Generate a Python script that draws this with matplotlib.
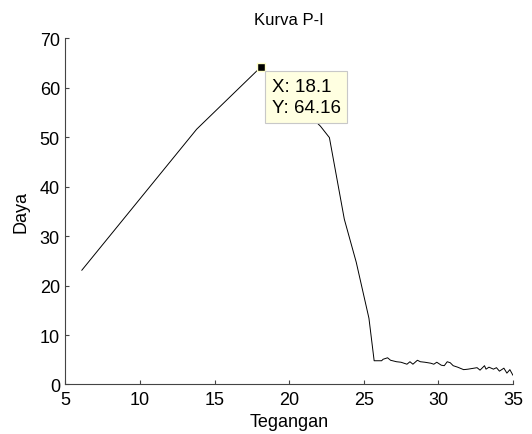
import numpy as np
import matplotlib
matplotlib.use("Agg")
import matplotlib.pyplot as plt

plt.rcParams['font.family'] = ['Liberation Sans', 'DejaVu Sans']

# data
tegangan = [6.1, 13.8, 18.1, 22.1, 22.7, 23.7, 24.5, 25.35, 25.7,
            26.2, 26.3, 26.6, 26.8, 27.2, 27.5, 27.9, 28.1, 28.3, 28.6,
            28.8, 29.1, 29.5, 29.7, 29.9, 30.2, 30.4, 30.6, 30.8, 31.0,
            31.3, 31.7, 32.0, 32.4, 32.6, 32.8, 33.1, 33.2, 33.4, 33.7,
            33.9, 34.1, 34.4, 34.6, 34.8, 35.0]
daya = [23.1, 51.6, 64.16, 52.2, 49.9, 33.4, 24.7, 13.4, 4.8,
        4.8, 5.1, 5.4, 4.9, 4.6, 4.5, 4.1, 4.6, 4.1, 4.9,
        4.6, 4.5, 4.3, 4.1, 4.5, 3.9, 3.8, 4.6, 4.4, 3.8,
        3.5, 3.0, 3.1, 3.3, 3.4, 2.9, 3.8, 3.1, 3.5, 3.1,
        3.4, 2.7, 3.3, 2.3, 3.0, 1.9]
x_ticks = [5, 10, 15, 20, 25, 30, 35]
y_ticks = [0, 10, 20, 30, 40, 50, 60, 70]

fig = plt.figure(figsize=(5.32, 4.35), dpi=100)
ax = fig.add_axes([0.123, 0.1138, 0.841, 0.7962])

ax.plot(tegangan, daya, color='black', linewidth=0.7)

# data cursor at the peak
i = int(np.argmax(daya))
ax.plot(tegangan[i], daya[i], marker='s', markersize=6, color='black',
        markeredgecolor='#FFFFC8', markeredgewidth=1)
ax.annotate(f'X: {tegangan[i]}\nY: {daya[i]}', xy=(tegangan[i], daya[i]),
            xytext=(11, -11), textcoords='offset pixels', ha='left', va='top',
            fontsize=13.5, linespacing=1.3,
            bbox=dict(boxstyle='square,pad=0.35', fc='#FFFFE1', ec='#C8C8C8', lw=0.8))

ax.set_xlim(5, 35)
ax.set_ylim(0, 70)
ax.set_xticks(x_ticks)
ax.set_yticks(y_ticks)
ax.spines['top'].set_visible(False)
ax.spines['right'].set_visible(False)
ax.spines['left'].set_color('#444444')
ax.spines['bottom'].set_color('#444444')
ax.tick_params(direction='in', length=3, labelsize=13, colors='#444444',
               labelcolor='black')
ax.tick_params(axis='x', pad=5)
ax.tick_params(axis='y', pad=4)

ax.set_title('Kurva P-I', fontsize=12, pad=10)
ax.set_xlabel('Tegangan', fontsize=13, labelpad=3)
ax.set_ylabel('Daya', fontsize=13, labelpad=7)

fig.savefig('out.png', dpi=100)
